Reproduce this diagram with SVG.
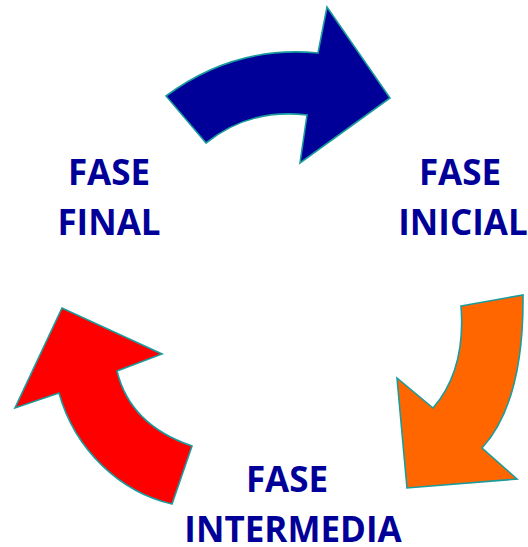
<svg xmlns="http://www.w3.org/2000/svg" width="528" height="547" viewBox="0 0 528 547">
  <style>
    .label { font-family: "Open Sans", "Liberation Sans", sans-serif; font-weight: 700; font-size: 35px; fill: #000099; text-anchor: middle; }
    .arrow { stroke: #1a9c9c; stroke-width: 1.6; stroke-linejoin: miter; }
  </style>
  <rect width="528" height="547" fill="#ffffff"/>

  <!-- curved block arrows linking the phases -->
  <g id="connectors">
    <path id="arrow-final-to-inicial" class="arrow" fill="#000099"
          d="M166,96 Q235,45 318,53 L327,7 L390,98 L300,163 L307,115 Q250,108 206,143 Z"/>
    <path id="arrow-inicial-to-intermedia" class="arrow" fill="#ff6600"
          d="M461,306 L523,295 Q524,402 482,448 L517,479 L407,488 L397,378 L433,408 Q466,370 461,306 Z"/>
    <path id="arrow-intermedia-to-final" class="arrow" fill="#ff0000"
          d="M172,504 C120,492 75,450 59,393 L15,408 L62,308 L162,354 L117,371 Q130,425 192,446 Z"/>
  </g>

  <g id="fase-final">
    <text class="label" x="109" y="185">FASE</text>
    <text class="label" x="109" y="235">FINAL</text>
  </g>
  <g id="fase-inicial">
    <text class="label" x="460" y="185">FASE</text>
    <text class="label" x="463" y="235">INICIAL</text>
  </g>
  <g id="fase-intermedia">
    <text class="label" x="287" y="492">FASE</text>
    <text class="label" x="293" y="542">INTERMEDIA</text>
  </g>
</svg>
